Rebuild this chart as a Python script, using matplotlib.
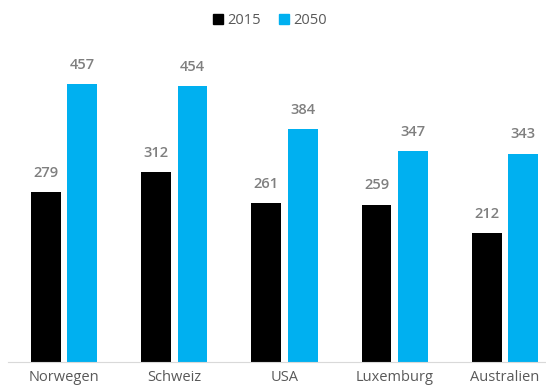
import numpy as np
import matplotlib.pyplot as plt
from matplotlib.patches import Patch

plt.rcParams['font.family'] = ['Open Sans', 'DejaVu Sans']

countries = ["Norwegen", "Schweiz", "USA", "Luxemburg", "Australien"]
values_2015 = [279, 312, 261, 259, 212]
values_2050 = [457, 454, 384, 347, 343]

black = "#000000"
blue = "#00B0F0"
grey = "#7F7F7F"

fig = plt.figure(figsize=(5.46, 3.92), dpi=100)
ax = fig.add_axes([8 / 546, 30 / 392, 538 / 546, 322 / 392])

x = np.arange(len(countries))
w = 0.27
off = 0.165
b1 = ax.bar(x - off, values_2015, w, color=black)
b2 = ax.bar(x + off, values_2050, w, color=blue)

# Wertebeschriftung über den Balken
for bars, vals in [(b1, values_2015), (b2, values_2050)]:
    for b, v in zip(bars, vals):
        ax.text(b.get_x() + b.get_width() / 2, v + 20, str(v),
                ha="center", va="bottom", fontsize=10.5, color=grey,
                fontweight="semibold")

ax.set_xlim(-0.509, 4.373)
ax.set_ylim(0, 530)
ax.set_xticks(x)
ax.set_xticklabels(countries, fontsize=10.5, color="#595959")
ax.tick_params(axis="x", length=0, pad=6)
ax.set_yticks([])
for s in ["top", "right", "left"]:
    ax.spines[s].set_visible(False)
ax.spines["bottom"].set_color("#D9D9D9")
ax.spines["bottom"].set_linewidth(0.8)

handles = [Patch(color=black, label="2015"), Patch(color=blue, label="2050")]
fig.legend(handles=handles, loc="upper center", bbox_to_anchor=(270 / 546, 1.0),
           ncol=2, frameon=False, fontsize=10.5, handlelength=0.7, handleheight=0.7,
           handletextpad=0.3, columnspacing=1.2, labelcolor="#595959")

fig.savefig("out.png", dpi=100)
